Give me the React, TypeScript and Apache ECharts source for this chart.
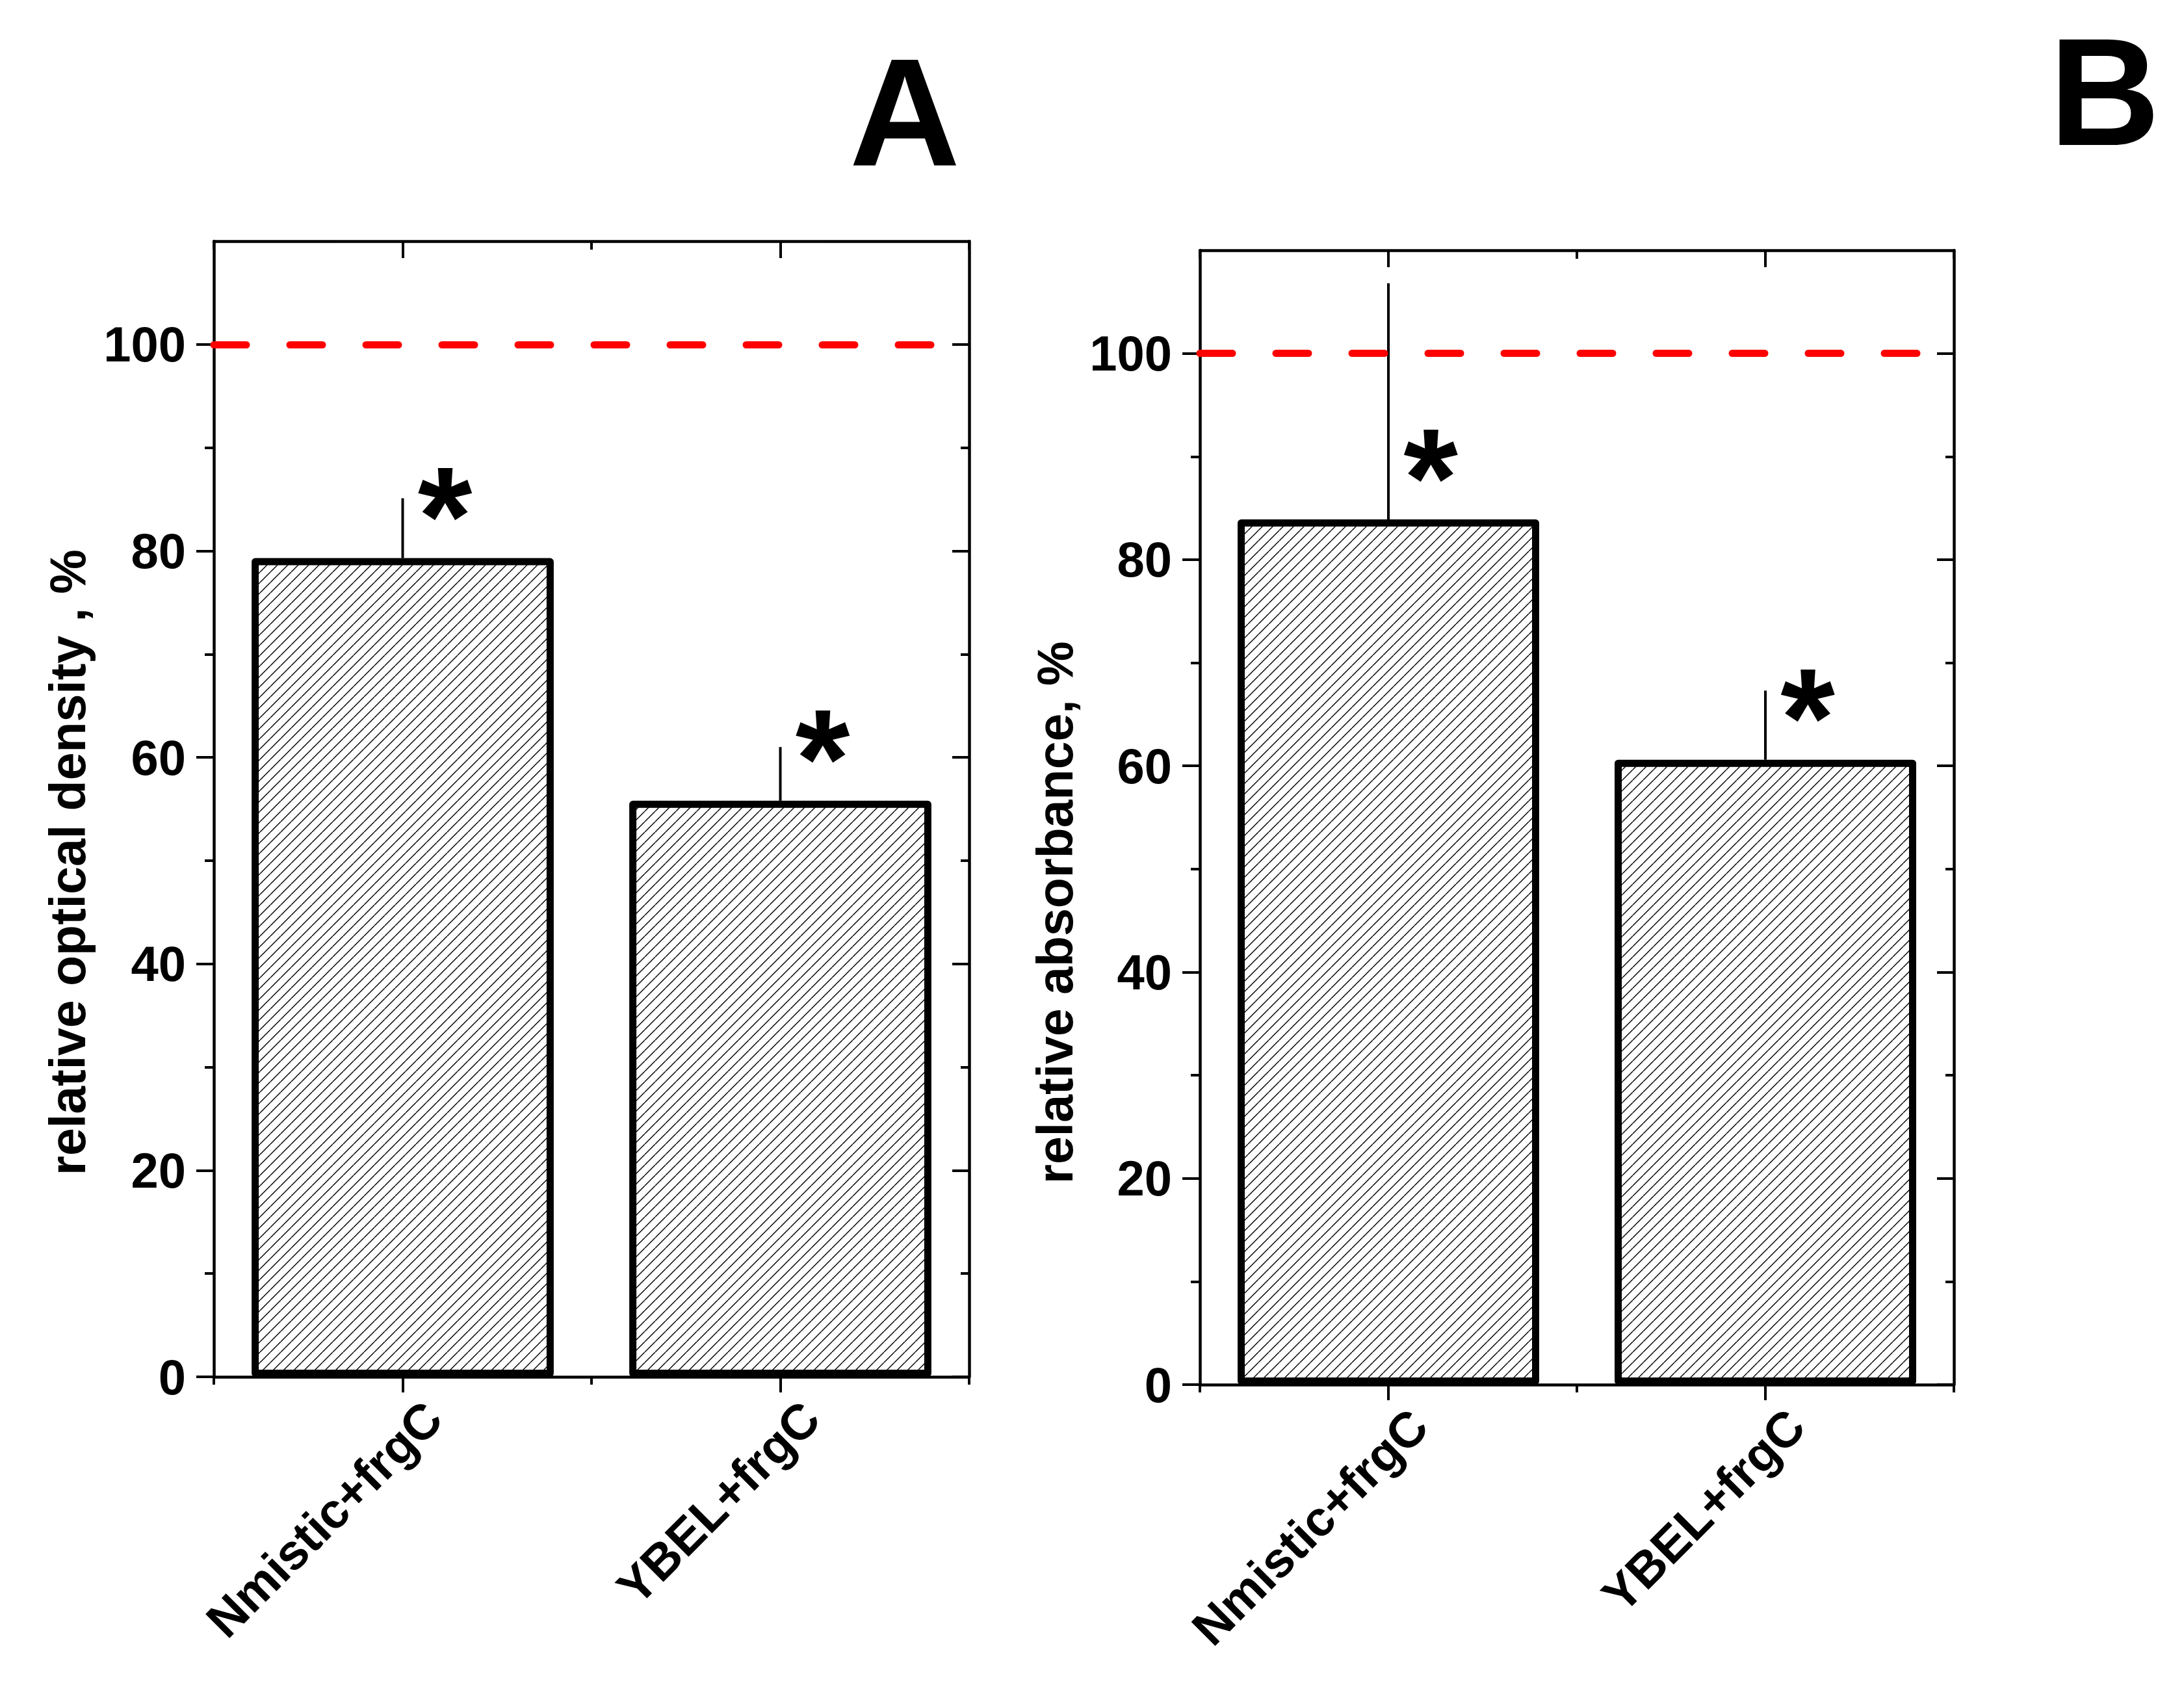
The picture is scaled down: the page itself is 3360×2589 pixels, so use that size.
import React, { useEffect, useRef } from 'react';
import * as echarts from 'echarts';

// ---- data ----
const categories = ['Nmistic+frgC', 'YBEL+frgC'];
const valuesA = [79.3, 55.8];
const errorTopA = [85.1, 61.0];
const valuesB = [83.9, 60.6];
const errorTopB = [106.8, 67.3];
const majorTicks = [0, 20, 40, 60, 80, 100];
const minorTicks = [10, 30, 50, 70, 90];
const referenceLevel = 100;
const yMin = 0;
const yMax = 110;
const titleA = 'relative optical density , %';
const titleB = 'relative absorbance, %';
const letterA = 'A';
const letterB = 'B';

const FONT = '"Liberation Sans", Arial, Helvetica, sans-serif';
const STAR_SIZE = 215;

function makeHatch() {
  const s = 16;
  const c = document.createElement('canvas');
  c.width = s;
  c.height = s;
  const ctx = c.getContext('2d')!;
  ctx.fillStyle = '#ffffff';
  ctx.fillRect(0, 0, s, s);
  ctx.strokeStyle = '#000000';
  ctx.lineWidth = 1.4;
  for (const o of [-s, 0, s]) {
    ctx.beginPath();
    ctx.moveTo(o, s);
    ctx.lineTo(o + s, 0);
    ctx.stroke();
  }
  return c;
}

export default function App() {
  const ref = useRef<HTMLDivElement>(null);

  useEffect(() => {
    document.body.style.margin = '0';
    document.body.style.background = '#ffffff';
    if (!ref.current) return;
    const chart = echarts.init(ref.current, null, { renderer: 'svg' });
    const hatch = makeHatch();
    const pattern: any = { image: hatch, repeat: 'repeat', imageWidth: 16, imageHeight: 16 };

    const grids = [
      { left: 329, top: 371, width: 1162, height: 1747 },
      { left: 1846, top: 385, width: 1160, height: 1745 },
    ];
    const panels = [
      { values: valuesA, errs: errorTopA },
      { values: valuesB, errs: errorTopB },
    ];

    const axisLineStyle = { color: '#000', width: 4.5 };
    const tickLine = { color: '#000', width: 4 };

    const xAxis: any[] = [];
    const yAxis: any[] = [];
    const series: any[] = [];

    panels.forEach((p, g) => {
      // category bottom
      xAxis.push({
        type: 'category', gridIndex: g, data: categories, position: 'bottom', boundaryGap: true,
        axisLine: { show: true, onZero: false, lineStyle: axisLineStyle },
        axisTick: { show: true, alignWithLabel: true, length: 24, inside: false, lineStyle: tickLine },
        axisLabel: {
          show: true, interval: 0, rotate: 45, margin: 4, lineHeight: 133,
          formatter: (v: string) => '\n' + v,
          fontSize: 76, fontWeight: 'bold', fontFamily: FONT, color: '#000',
        },
        splitLine: { show: false },
      });
      // category top
      xAxis.push({
        type: 'category', gridIndex: g, data: categories, position: 'top', boundaryGap: true,
        axisLine: { show: true, onZero: false, lineStyle: axisLineStyle },
        axisTick: { show: true, alignWithLabel: true, length: 26, inside: true, lineStyle: tickLine },
        axisLabel: { show: false },
        splitLine: { show: false },
      });
      // boundary ticks bottom
      xAxis.push({
        type: 'value', gridIndex: g, min: 0, max: 2, interval: 1, position: 'bottom',
        axisLine: { show: false, onZero: false },
        axisTick: { show: true, length: 12, inside: false, lineStyle: tickLine },
        axisLabel: { show: false }, splitLine: { show: false },
      });
      // boundary ticks top
      xAxis.push({
        type: 'value', gridIndex: g, min: 0, max: 2, interval: 1, position: 'top',
        axisLine: { show: false, onZero: false },
        axisTick: { show: true, length: 13, inside: true, lineStyle: tickLine },
        axisLabel: { show: false }, splitLine: { show: false },
      });

      // left major
      yAxis.push({
        type: 'value', gridIndex: g, min: yMin, max: yMax, interval: 20, position: 'left',
        axisLine: { show: true, onZero: false, lineStyle: axisLineStyle },
        axisTick: { show: true, length: 27, inside: false, lineStyle: tickLine, customValues: majorTicks },
        axisLabel: {
          show: true, margin: 43, fontSize: 76, fontWeight: 'bold', fontFamily: FONT, color: '#000',
          customValues: majorTicks,
        },
        splitLine: { show: false },
      });
      // left minor
      yAxis.push({
        type: 'value', gridIndex: g, min: yMin, max: yMax, interval: 10, position: 'left',
        axisLine: { show: false, onZero: false },
        axisTick: { show: true, length: 14, inside: false, lineStyle: tickLine, customValues: minorTicks },
        axisLabel: { show: false }, splitLine: { show: false },
      });
      // right major
      yAxis.push({
        type: 'value', gridIndex: g, min: yMin, max: yMax, interval: 20, position: 'right',
        axisLine: { show: true, onZero: false, lineStyle: axisLineStyle },
        axisTick: { show: true, length: 26, inside: true, lineStyle: tickLine, customValues: majorTicks },
        axisLabel: { show: false }, splitLine: { show: false },
      });
      // right minor
      yAxis.push({
        type: 'value', gridIndex: g, min: yMin, max: yMax, interval: 10, position: 'right',
        axisLine: { show: false, onZero: false },
        axisTick: { show: true, length: 13, inside: true, lineStyle: tickLine, customValues: minorTicks },
        axisLabel: { show: false }, splitLine: { show: false },
      });

      const xi = 4 * g;
      const yi = 4 * g;
      series.push({
        type: 'bar', xAxisIndex: xi, yAxisIndex: yi, data: p.values, barWidth: '80%',
        itemStyle: { color: pattern, borderColor: '#000', borderWidth: 11, borderJoin: 'round' },
        z: 2,
        markLine: {
          silent: true, symbol: 'none', animation: false,
          label: { show: false },
          lineStyle: { color: '#ff0000', width: 11, type: [50, 67], cap: 'round' },
          data: [{ yAxis: referenceLevel }],
        },
      });
      series.push({
        type: 'custom', xAxisIndex: xi, yAxisIndex: yi, z: 3,
        data: categories.map((_, i) => [i, p.values[i], p.errs[i]]),
        encode: { x: 0, y: [1, 2] },
        renderItem: (params: any, api: any) => {
          const a = api.coord([api.value(0), api.value(1)]);
          const b = api.coord([api.value(0), api.value(2)]);
          return {
            type: 'line',
            shape: { x1: a[0], y1: a[1], x2: b[0], y2: b[1] },
            style: { stroke: '#000', lineWidth: 4 },
          };
        },
      });
      series.push({
        type: 'custom', xAxisIndex: xi, yAxisIndex: yi, z: 4,
        data: categories.map((_, i) => [i, p.values[i]]),
        encode: { x: 0, y: 1 },
        renderItem: (params: any, api: any) => {
          const a = api.coord([api.value(0), api.value(1)]);
          return {
            type: 'text',
            x: a[0] + 65,
            y: a[1] - 110 + 0.21 * STAR_SIZE,
            style: {
              text: '*', fontSize: STAR_SIZE, fontWeight: 'bold', fontFamily: FONT,
              fill: '#000', align: 'center', verticalAlign: 'middle',
            },
          };
        },
      });
    });

    const option: any = {
      animation: false,
      backgroundColor: '#ffffff',
      grid: grids,
      xAxis,
      yAxis,
      series,
      graphic: [
        {
          type: 'text', x: 1392, y: 172,
          style: { text: letterA, fontSize: 236, fontWeight: 'bold', fontFamily: FONT, fill: '#000', align: 'center', verticalAlign: 'middle' },
        },
        {
          type: 'text', x: 3238, y: 141,
          style: { text: letterB, fontSize: 236, fontWeight: 'bold', fontFamily: FONT, fill: '#000', align: 'center', verticalAlign: 'middle' },
        },
        {
          type: 'text', x: 104, y: 1808, rotation: Math.PI / 2,
          style: { text: titleA, fontSize: 77, fontWeight: 'bold', fontFamily: FONT, fill: '#000', align: 'left', verticalAlign: 'middle' },
        },
        {
          type: 'text', x: 1623, y: 1821, rotation: Math.PI / 2,
          style: { text: titleB, fontSize: 77, fontWeight: 'bold', fontFamily: FONT, fill: '#000', align: 'left', verticalAlign: 'middle' },
        },
      ],
    };
    chart.setOption(option);
    return () => chart.dispose();
  }, []);

  return <div ref={ref} style={{ width: 3360, height: 2589, background: '#fff' }} />;
}
